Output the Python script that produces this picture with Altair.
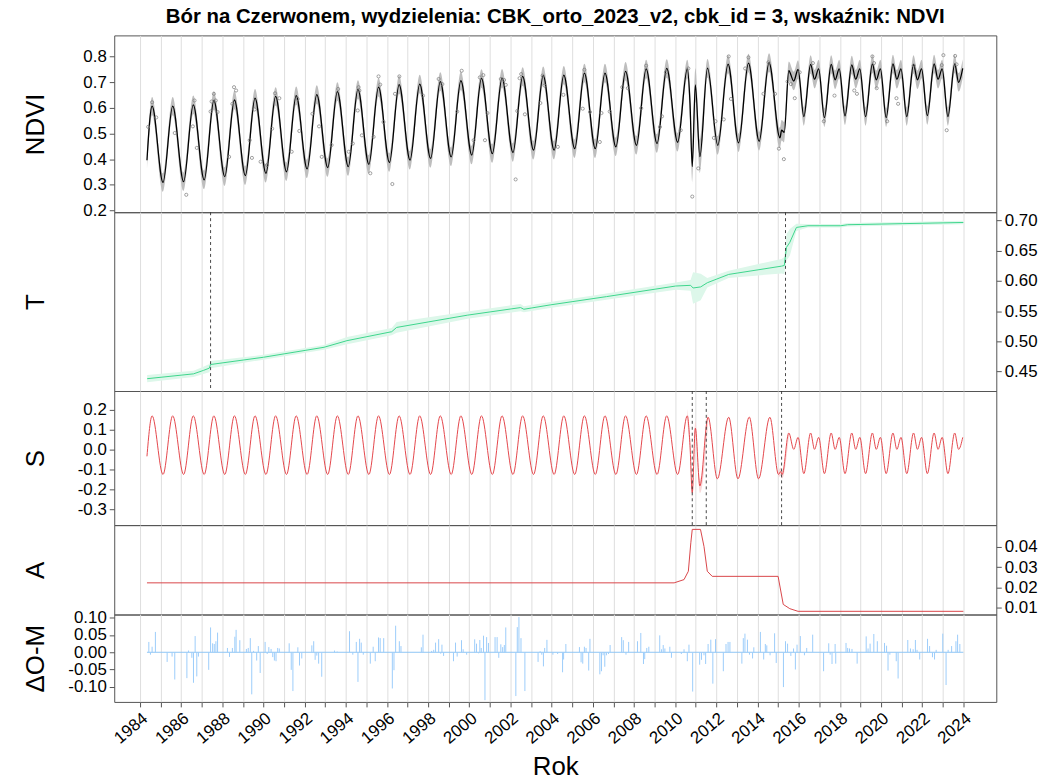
import altair as alt
import pandas as pd

FONT = "Liberation Sans"
TITLE = "Bór na Czerwonem, wydzielenia: CBK_orto_2023_v2, cbk_id = 3, wskaźnik: NDVI"

FRAME = "#555555"
GRID = "#DEDEDE"

X_DOMAIN = [1982.75, 2025.6]
YEARS = list(range(1984, 2025))
W = 888
H_NDVI, H_T, H_S, H_A, H_R = 178, 180, 135, 90, 88

# ---------------- fitted NDVI (model) ----------------
ndvi_start = (1984.34, 0.396)
# summer maxima (mid-year) and winter minima (early year), 1984-2010
ndvi_peak_years = list(range(1984, 2011))
ndvi_peaks = [0.607, 0.607, 0.612, 0.629, 0.631, 0.638, 0.645, 0.648, 0.652,
              0.664, 0.672, 0.681, 0.691, 0.693, 0.703, 0.706, 0.715, 0.716,
              0.723, 0.726, 0.728, 0.736, 0.736, 0.743, 0.752, 0.754, 0.752]
ndvi_low_years = list(range(1985, 2011))
ndvi_lows = [0.309, 0.312, 0.319, 0.332, 0.336, 0.345, 0.351, 0.362, 0.367,
             0.371, 0.380, 0.387, 0.396, 0.403, 0.409, 0.416, 0.422, 0.426,
             0.435, 0.435, 0.441, 0.441, 0.448, 0.454, 0.461, 0.466]
# disturbance 2010-2015
ndvi_mid_t = [2010.72, 2010.83, 2010.98, 2011.20, 2011.57, 2012.07, 2012.57,
              2013.08, 2013.56, 2014.08, 2014.56, 2015.09, 2015.17, 2015.30,
              2015.52, 2015.76, 2015.97]
ndvi_mid_v = [0.620, 0.371, 0.690, 0.410, 0.755, 0.454, 0.771,
              0.464, 0.775, 0.470, 0.777, 0.483, 0.513, 0.505,
              0.745, 0.705, 0.750]
# bimodal season after 2016: low, main peak, dip, second peak
post_years = list(range(2016, 2024))
ndvi_post_low = [0.566, 0.562, 0.569, 0.566, 0.562, 0.566, 0.570, 0.566]
ndvi_post_peak = [0.770, 0.770, 0.768, 0.772, 0.772, 0.770, 0.772, 0.772]
ndvi_post_dip = [0.712, 0.710, 0.712, 0.710, 0.712, 0.710, 0.712, 0.700]
ndvi_post_peak2 = [0.752, 0.752, 0.752, 0.752, 0.752, 0.752, 0.752, 0.754]
NDVI_BAND = 0.036
ndvi_wide = [(2010.70, 2011.30, 0.065), (2014.95, 2015.45, 0.04)]

# ---------------- trend T ----------------
trend_t = [1984.35, 1986.60, 1987.08, 1987.37, 1987.43, 1990.00, 1992.94, 1994.06,
           1996.23, 1996.47, 1999.92, 2002.49, 2002.65, 2003.93, 2006.66, 2010.03,
           2010.75, 2010.87, 2011.24, 2011.56, 2012.60, 2015.17, 2015.30, 2015.41,
           2015.57, 2015.89, 2016.45, 2018.05, 2018.38, 2024.00]
trend_v = [0.438, 0.446, 0.4517, 0.4555, 0.4615, 0.4735, 0.490, 0.501,
           0.5158, 0.5229, 0.5433, 0.5558, 0.553, 0.5602, 0.5739, 0.5915,
           0.5926, 0.5882, 0.590, 0.5969, 0.6107, 0.6244, 0.6255, 0.6556,
           0.6638, 0.6885, 0.6913, 0.6913, 0.693, 0.6967]
trend_hw = [0.006, 0.005, 0.006, 0.007, 0.006, 0.004, 0.004, 0.006,
            0.006, 0.009, 0.006, 0.006, 0.005, 0.005, 0.005, 0.006,
            0.009, 0.026, 0.022, 0.008, 0.006, 0.012, 0.014, 0.022,
            0.022, 0.006, 0.003, 0.003, 0.003, 0.003]
trend_breaks = [1987.43, 2015.36]

# ---------------- season S ----------------
season_start = (1984.34, -0.035)
season_peaks = [0.168, 0.168, 0.168, 0.168, 0.168, 0.168, 0.168, 0.168, 0.168,
                0.168, 0.168, 0.168, 0.168, 0.168, 0.168, 0.168, 0.168, 0.168,
                0.168, 0.168, 0.168, 0.168, 0.168, 0.168, 0.168, 0.168, 0.168]
season_lows = [-0.126, -0.126, -0.126, -0.126, -0.126, -0.126, -0.126, -0.126, -0.126,
               -0.126, -0.126, -0.126, -0.126, -0.126, -0.126, -0.126, -0.126, -0.126,
               -0.126, -0.126, -0.126, -0.126, -0.126, -0.126, -0.126, -0.126]
season_mid_t = [2010.72, 2010.83, 2010.98, 2011.20, 2011.60, 2012.05, 2012.60,
                2013.05, 2013.60, 2014.05, 2014.60, 2015.02, 2015.12, 2015.20,
                2015.52, 2015.76, 2015.97]
season_mid_v = [0.020, -0.217, 0.106, -0.184, 0.161, -0.148, 0.161,
                -0.148, 0.162, -0.148, 0.161, -0.126, -0.112, -0.126,
                0.082, 0.000, 0.060]
season_post_low = [-0.122, -0.122, -0.122, -0.122, -0.122, -0.122, -0.122, -0.122]
season_post_peak = [0.082, 0.082, 0.082, 0.082, 0.082, 0.082, 0.082, 0.082]
season_post_dip = [0.000, 0.000, 0.000, 0.000, 0.000, 0.000, 0.000, 0.000]
season_post_peak2 = [0.060, 0.060, 0.060, 0.060, 0.060, 0.060, 0.060, 0.060]
season_breaks = [2010.83, 2011.51, 2015.17]
# windows where the seasonal fit carries a visible uncertainty band
season_wide = [(2010.55, 2011.65, 0.035), (2014.95, 2015.60, 0.02)]

# ---------------- A ----------------
amp_t = [1984.34, 2009.95, 2010.43, 2010.64, 2010.76, 2010.83, 2011.23, 2011.40,
         2011.56, 2011.80, 2015.00, 2015.25, 2015.57, 2015.97, 2024.00]
amp_v = [0.0223, 0.0223, 0.0239, 0.0280, 0.0420, 0.0486, 0.0486, 0.0402,
         0.0280, 0.0255, 0.0255, 0.0117, 0.0096, 0.0083, 0.0083]

# ---------------- observations and residuals ----------------
obs_t = [1984.40, 1984.59, 1984.79, 1985.69, 1986.25, 1986.57, 1986.65, 1986.76,
         1987.43, 1987.48, 1987.59, 1987.68, 1987.77, 1988.33, 1988.49, 1988.57,
         1988.67, 1989.33, 1989.44, 1989.57, 1989.86, 1990.18, 1990.42, 1990.56,
         1990.77, 1991.37, 1991.66, 1991.74, 1992.38, 1992.70, 1992.83, 1993.31,
         1993.63, 1994.14, 1994.34, 1994.58, 1994.62, 1994.66, 1994.78, 1995.19,
         1995.35, 1995.59, 1995.67, 1995.83, 1996.26, 1996.39, 1996.60, 1997.75,
         1998.51, 1998.69, 1999.41, 1999.63, 2000.21, 2000.51, 2000.68, 2000.76,
         2000.88, 2001.53, 2001.69, 2001.77, 2002.25, 2002.33, 2002.44, 2002.52,
         2002.70, 2003.45, 2003.56, 2003.66, 2004.30, 2004.57, 2005.51, 2005.59,
         2005.86, 2006.34, 2006.42, 2006.82, 2007.43, 2007.70, 2008.35, 2008.59,
         2009.26, 2009.36, 2009.55, 2010.27, 2010.64, 2010.83, 2011.12, 2011.88,
         2011.96, 2012.36, 2012.60, 2012.71, 2013.40, 2013.56, 2014.29, 2014.53,
         2014.85, 2015.04, 2015.28, 2015.46, 2015.62, 2015.81, 2016.05, 2016.69,
         2017.22, 2017.74, 2018.70, 2018.83, 2019.58, 2019.66, 2019.79, 2020.30,
         2020.75, 2020.83, 2021.59, 2022.95, 2023.03, 2023.19, 2023.60, 2023.67]
obs_v = [0.526, 0.622, 0.563, 0.502, 0.261, 0.528, 0.629, 0.444,
         0.586, 0.625, 0.655, 0.629, 0.584, 0.409, 0.616, 0.681,
         0.668, 0.474, 0.405, 0.594, 0.390, 0.377, 0.519, 0.657,
         0.638, 0.429, 0.635, 0.510, 0.577, 0.528, 0.409, 0.455,
         0.674, 0.429, 0.461, 0.590, 0.681, 0.668, 0.493, 0.345,
         0.487, 0.723, 0.691, 0.545, 0.303, 0.655, 0.723, 0.648,
         0.713, 0.693, 0.586, 0.745, 0.474, 0.719, 0.728, 0.474,
         0.580, 0.713, 0.709, 0.690, 0.321, 0.588, 0.716, 0.732,
         0.575, 0.619, 0.726, 0.687, 0.448, 0.651, 0.597, 0.749,
         0.584, 0.467, 0.580, 0.586, 0.681, 0.677, 0.599, 0.765,
         0.526, 0.567, 0.739, 0.513, 0.754, 0.254, 0.364, 0.483,
         0.548, 0.555, 0.801, 0.635, 0.754, 0.797, 0.655, 0.778,
         0.655, 0.441, 0.400, 0.703, 0.693, 0.638, 0.739, 0.775,
         0.548, 0.648, 0.668, 0.655, 0.801, 0.775, 0.677, 0.548,
         0.638, 0.616, 0.765, 0.767, 0.806, 0.513, 0.803, 0.770]

res_t = [1984.43, 1984.51, 1984.59, 1984.75, 1985.32, 1985.56, 1985.69, 1986.28, 1986.36, 1986.52,
         1986.60, 1986.68, 1986.76, 1986.84, 1987.34, 1987.43, 1987.53, 1987.61, 1987.69, 1987.77,
         1988.25, 1988.35, 1988.49, 1988.61, 1988.67, 1988.85, 1989.17, 1989.26, 1989.36, 1989.43,
         1989.52, 1989.67, 1989.75, 1989.84, 1990.08, 1990.18, 1990.26, 1990.37, 1990.45, 1990.53,
         1990.61, 1990.69, 1990.77, 1991.25, 1991.35, 1991.43, 1991.67, 1991.75, 1991.86, 1992.35,
         1992.44, 1992.51, 1992.59, 1992.68, 1992.83, 1993.45, 1993.58, 1994.18, 1994.34, 1994.51,
         1994.59, 1994.67, 1994.75, 1994.85, 1995.19, 1995.33, 1995.43, 1995.59, 1995.67, 1995.84,
         1996.26, 1996.34, 1996.42, 1996.60, 1996.68, 1997.67, 1997.75, 1998.17, 1998.27, 1998.36,
         1998.51, 1998.61, 1998.67, 1998.75, 1999.23, 1999.33, 1999.41, 1999.62, 1999.70, 1999.87,
         2000.26, 2000.35, 2000.45, 2000.51, 2000.58, 2000.69, 2000.76, 2000.84, 2000.93, 2001.25,
         2001.35, 2001.43, 2001.53, 2001.62, 2001.70, 2001.77, 2002.26, 2002.33, 2002.41, 2002.51,
         2002.70, 2003.34, 2003.44, 2003.52, 2003.60, 2003.66, 2003.77, 2004.06, 2004.29, 2004.53,
         2004.58, 2004.69, 2005.35, 2005.43, 2005.51, 2005.59, 2005.67, 2005.80, 2005.86, 2006.34,
         2006.42, 2006.50, 2006.58, 2006.66, 2006.76, 2006.84, 2007.40, 2007.48, 2007.61, 2007.74,
         2008.17, 2008.33, 2008.46, 2008.52, 2008.62, 2008.72, 2009.25, 2009.34, 2009.42, 2009.50,
         2009.74, 2009.82, 2010.30, 2010.43, 2010.59, 2010.67, 2010.85, 2011.19, 2011.28, 2011.40,
         2011.48, 2011.60, 2011.73, 2011.83, 2011.96, 2012.34, 2012.47, 2012.57, 2012.66, 2013.24,
         2013.31, 2013.39, 2013.51, 2013.61, 2013.76, 2013.82, 2014.14, 2014.30, 2014.38, 2014.45,
         2014.61, 2014.83, 2014.91, 2015.26, 2015.36, 2015.46, 2015.62, 2015.75, 2015.84, 2015.92,
         2016.08, 2016.28, 2016.39, 2016.68, 2017.21, 2017.46, 2017.53, 2017.62, 2017.77, 2017.80,
         2018.30, 2018.38, 2018.47, 2018.59, 2018.84, 2019.28, 2019.37, 2019.47, 2019.65, 2019.82,
         2020.17, 2020.27, 2020.34, 2020.43, 2020.74, 2020.83, 2021.30, 2021.43, 2021.56, 2021.67,
         2021.75, 2021.88, 2022.26, 2022.36, 2022.50, 2022.60, 2022.68, 2023.00, 2023.16, 2023.26,
         2023.43, 2023.64, 2023.72, 2023.83]
res_v = [0.030, -0.007, 0.016, 0.059, -0.028, -0.0125, -0.079, -0.075, 0.005, -0.016,
         -0.0885, 0.047, -0.070, -0.0125, -0.051, 0.072, 0.026, 0.024, 0.032, 0.057,
         0.0125, -0.0135, 0.0125, 0.045, 0.065, 0.035, 0.0096, 0.0125, 0.041, -0.122,
         0.004, -0.024, 0.018, -0.060, 0.030, -0.005, 0.015, 0.0096, -0.014, -0.024,
         -0.026, 0.0125, 0.011, 0.026, -0.051, -0.1125, 0.0144, -0.0385, -0.018, 0.020,
         0.032, -0.022, -0.0096, -0.033, -0.071, 0.005, 0.002, 0.061, -0.007, 0.030,
         -0.086, 0.039, 0.028, -0.007, -0.033, 0.016, -0.026, 0.043, 0.041, 0.041,
         -0.105, -0.052, 0.077, 0.032, 0.018, 0.0144, 0.051, 0.004, 0.007, 0.028,
         0.038, -0.004, 0.022, -0.0106, -0.026, 0.028, -0.0125, 0.035, 0.0087, -0.007,
         0.0375, 0.025, -0.003, 0.0356, 0.0125, 0.048, -0.139, 0.044, 0.027, 0.044,
         0.044, -0.016, 0.023, 0.015, 0.021, 0.072, -0.127, 0.073, 0.102, 0.041,
         -0.1125, -0.028, 0.003, -0.007, -0.041, 0.0125, 0.036, -0.007, -0.005, -0.058,
         -0.021, 0.024, 0.015, -0.029, -0.033, 0.016, 0.0125, -0.053, 0.039, -0.064,
         -0.055, -0.0087, -0.042, -0.0087, -0.005, 0.021, 0.044, 0.035, -0.007, 0.030,
         0.032, 0.056, -0.034, -0.020, 0.0125, 0.016, 0.049, 0.0087, 0.021, 0.011,
         0.016, -0.016, -0.005, 0.0087, -0.026, 0.022, -0.114, -0.036, -0.022, -0.0087,
         -0.034, 0.024, 0.0365, -0.091, 0.038, -0.055, 0.024, 0.030, 0.030, -0.033,
         0.041, 0.054, 0.0365, -0.007, -0.018, 0.0144, 0.059, -0.021, 0.024, 0.020,
         -0.0087, 0.055, -0.031, -0.101, 0.032, 0.025, -0.0106, 0.011, -0.050, 0.022,
         0.047, -0.0087, 0.0125, 0.051, -0.055, 0.026, -0.007, -0.034, 0.024, -0.033,
         0.027, 0.0125, 0.011, 0.0096, -0.033, 0.046, 0.011, 0.025, 0.053, 0.032,
         0.027, 0.019, -0.053, -0.007, -0.026, -0.076, 0.0356, 0.011, 0.0087, 0.0356,
         0.007, -0.021, 0.039, 0.018, -0.0144, -0.021, 0.007, 0.054, -0.095, 0.007,
         0.018, 0.032, 0.051, 0.024]
assert len(obs_t) == len(obs_v) and len(res_t) == len(res_v)

# ---------------- tables ----------------
def seasonal_table(start, peaks, lows, mid_t, mid_v, p_low, p_peak, p_dip, p_peak2):
    rows = [start]
    for y, p in zip(ndvi_peak_years, peaks):
        if y in ndvi_low_years:
            rows.append((y + 0.12, lows[ndvi_low_years.index(y)]))
        rows.append((y + 0.59, p))
    rows += list(zip(mid_t, mid_v))
    for i, y in enumerate(post_years):
        rows += [(y + 0.25, p_low[i]), (y + 0.58, p_peak[i]),
                 (y + 0.77, p_dip[i]), (y + 0.97, p_peak2[i])]
    return pd.DataFrame(rows, columns=["t", "v"])

ndvi_df = seasonal_table(ndvi_start, ndvi_peaks, ndvi_lows, ndvi_mid_t, ndvi_mid_v,
                         ndvi_post_low, ndvi_post_peak, ndvi_post_dip, ndvi_post_peak2)
ndvi_df["hw"] = NDVI_BAND
for a, b, w in ndvi_wide:
    ndvi_df.loc[(ndvi_df.t >= a) & (ndvi_df.t <= b), "hw"] = w
ndvi_df["lo"] = ndvi_df.v - ndvi_df.hw
ndvi_df["hi"] = ndvi_df.v + ndvi_df.hw

season_df = seasonal_table(season_start, season_peaks, season_lows, season_mid_t,
                           season_mid_v, season_post_low, season_post_peak,
                           season_post_dip, season_post_peak2)
season_band = []
for a, b, w in season_wide:
    part = season_df[(season_df.t >= a) & (season_df.t <= b)].copy()
    part["lo"] = part.v - w
    part["hi"] = part.v + w
    part["seg"] = a
    season_band.append(part)
season_band_df = pd.concat(season_band, ignore_index=True)

trend_df = pd.DataFrame({"t": trend_t, "v": trend_v, "hw": trend_hw})
trend_df["lo"] = trend_df.v - trend_df.hw
trend_df["hi"] = trend_df.v + trend_df.hw
amp_df = pd.DataFrame({"t": amp_t, "v": amp_v})
obs_df = pd.DataFrame({"t": obs_t, "v": obs_v})
res_df = pd.DataFrame({"t": res_t, "v": res_v, "zero": 0.0})
zero_df = pd.DataFrame({"t": [res_t[0] - 0.09], "t2": [2024.0], "zero": [0.0]})
tbreak_df = pd.DataFrame({"t": trend_breaks})
sbreak_df = pd.DataFrame({"t": season_breaks})

LABEL_SIZE = 17


# ---------------- axes ----------------
def x_enc(bottom=False, field="t"):
    if bottom:
        axis = alt.Axis(values=YEARS, grid=True, gridColor=GRID, format="d",
                        labelExpr="datum.value % 2 == 0 ? datum.label : ''",
                        labelAngle=-40, labelFontSize=LABEL_SIZE, labelOverlap=False,
                        labelFlush=False, labelPadding=3, labelColor="black",
                        tickSize=5, tickColor=FRAME, domain=False,
                        title="Rok", titleFontSize=26, titleFontWeight="normal",
                        titleColor="black", titlePadding=8)
    else:
        axis = alt.Axis(values=YEARS, grid=True, gridColor=GRID, labels=False,
                        ticks=False, domain=False, title=None)
    return alt.X(f"{field}:Q", scale=alt.Scale(domain=X_DOMAIN, nice=False, zero=False),
                 axis=axis)


def y_axis(title, h, values, fmt, orient="left"):
    tx = -66 if orient == "left" else -(W + 66)
    return alt.Axis(orient=orient, values=values,
                    labelExpr=f"replace(format(datum.value, '{fmt}'), '\u2212', '-')",
                    title=title, titleX=tx, titleY=h / 2, titleAngle=270,
                    titleAlign="center", titleBaseline="bottom", titleFontSize=26,
                    titleFontWeight="normal", titleColor="black",
                    labelFontSize=LABEL_SIZE, labelColor="black", labelPadding=3,
                    tickSize=5, tickColor=FRAME, domain=False, grid=False)


def y_enc(field, domain, axis):
    return alt.Y(f"{field}:Q", scale=alt.Scale(domain=domain, nice=False, zero=False),
                 axis=axis)


# ---------------- NDVI panel ----------------
ax_ndvi = y_axis("NDVI", H_NDVI, [0.2, 0.3, 0.4, 0.5, 0.6, 0.7, 0.8], ".1f")
dom_ndvi = [0.193, 0.883]
ndvi_band = alt.Chart(ndvi_df).mark_area(color="#BEBEBE", interpolate="monotone").encode(
    x=x_enc(), y=y_enc("lo", dom_ndvi, ax_ndvi), y2="hi:Q")
ndvi_line = alt.Chart(ndvi_df).mark_line(color="black", strokeWidth=1.3,
                                         interpolate="monotone").encode(
    x=x_enc(), y=y_enc("v", dom_ndvi, ax_ndvi))
ndvi_pts = alt.Chart(obs_df).mark_point(shape="circle", filled=False, size=10,
                                        color="#7A7A7A", strokeWidth=0.7,
                                        opacity=1).encode(
    x=x_enc(), y=y_enc("v", dom_ndvi, ax_ndvi))
p_ndvi = alt.layer(ndvi_band, ndvi_line, ndvi_pts).properties(
    width=W, height=H_NDVI,
    title=alt.TitleParams(TITLE, font=FONT, fontSize=20.5, fontWeight="bold",
                          anchor="middle", frame="group", offset=8, color="black"))

# ---------------- T panel ----------------
ax_t = y_axis("T", H_T, [0.45, 0.50, 0.55, 0.60, 0.65, 0.70], ".2f", orient="right")
dom_t = [0.4176, 0.7137]
t_band = alt.Chart(trend_df).mark_area(color="#DDF7EA").encode(
    x=x_enc(), y=y_enc("lo", dom_t, ax_t), y2="hi:Q")
t_line = alt.Chart(trend_df).mark_line(color="#3DD68C", strokeWidth=1).encode(
    x=x_enc(), y=y_enc("v", dom_t, ax_t))
t_brk = alt.Chart(tbreak_df).mark_rule(color="#333333", strokeDash=[3, 3],
                                       strokeWidth=0.9).encode(x=x_enc())
p_t = alt.layer(t_band, t_line, t_brk).properties(width=W, height=H_T)

# ---------------- S panel ----------------
ax_s = y_axis("S", H_S, [-0.3, -0.2, -0.1, 0.0, 0.1, 0.2], ".1f")
dom_s = [-0.38, 0.2925]
s_band = alt.Chart(season_band_df).mark_area(color="#F9D9DA",
                                             interpolate="monotone").encode(
    x=x_enc(), y=y_enc("lo", dom_s, ax_s), y2="hi:Q", detail="seg:N")
s_line = alt.Chart(season_df).mark_line(color="#E4474C", strokeWidth=1,
                                        interpolate="monotone").encode(
    x=x_enc(), y=y_enc("v", dom_s, ax_s))
s_brk = alt.Chart(sbreak_df).mark_rule(color="#333333", strokeDash=[3, 3],
                                       strokeWidth=0.9).encode(x=x_enc())
p_s = alt.layer(s_band, s_line, s_brk).properties(width=W, height=H_S)

# ---------------- A panel ----------------
ax_a = y_axis("A", H_A, [0.01, 0.02, 0.03, 0.04], ".2f", orient="right")
dom_a = [0.00673, 0.0507]
a_line = alt.Chart(amp_df).mark_line(color="#D9464A", strokeWidth=1).encode(
    x=x_enc(), y=y_enc("v", dom_a, ax_a))
p_a = alt.layer(a_line).properties(width=W, height=H_A)

# ---------------- residual panel ----------------
ax_r = y_axis("ΔO-M", H_R, [-0.10, -0.05, 0.0, 0.05, 0.10], ".2f")
dom_r = [-0.144, 0.1095]
r_zero = alt.Chart(zero_df).mark_rule(color="#8EC6F5", strokeWidth=1).encode(
    x=x_enc(bottom=True), x2="t2:Q", y=y_enc("zero", dom_r, ax_r))
r_bars = alt.Chart(res_df).mark_rule(color="#9CCDFA", strokeWidth=1).encode(
    x=x_enc(bottom=True), y=y_enc("zero", dom_r, ax_r), y2="v:Q")
p_r = alt.layer(r_zero, r_bars).properties(width=W, height=H_R)

chart = alt.vconcat(p_ndvi, p_t, p_s, p_a, p_r, spacing=0, bounds="flush").properties(
    padding={"left": 22, "top": 4, "right": 2, "bottom": 2}
).configure(font=FONT).configure_view(stroke=FRAME, strokeWidth=1)

chart.save("out.html", embed_options={"renderer": "svg", "actions": False})
